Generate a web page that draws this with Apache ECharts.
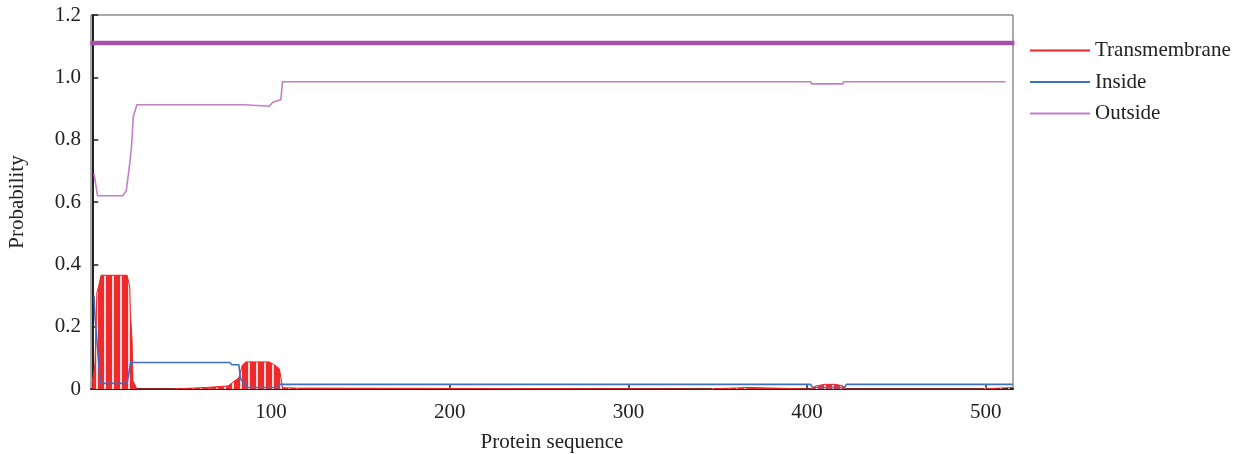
<!DOCTYPE html>
<html lang="en">
<head>
    <meta charset="UTF-8">
    <title>Protein topology</title>
    <script type="text/javascript" src="https://cdn.jsdelivr.net/npm/echarts@6/dist/echarts.min.js"></script>
    <style>
        html, body { margin: 0; padding: 0; background: #fff; }
    </style>
</head>
<body>
<div id="main" style="width: 1238px; height: 454px;"></div>

<script type="text/javascript">
    // residue positions and probabilities
    var outsidePos = [1, 2, 3, 17, 19, 21, 22, 23, 25, 85, 86, 99, 101, 105.5, 106.5, 402, 402.5, 420, 420.5, 511];
    var outsideVal = [0.69, 0.69, 0.62, 0.62, 0.635, 0.725, 0.78, 0.875, 0.912, 0.912, 0.907, 0.907, 0.92, 0.928, 0.986, 0.986, 0.979, 0.979, 0.986, 0.986];

    var insidePos = [1, 1.5, 2.5, 4.5, 19.5, 21.5, 77, 78, 82, 83, 87, 104, 105, 402, 403, 421, 422, 515];
    var insideVal = [0.3, 0.235, 0.235, 0.018, 0.018, 0.085, 0.085, 0.078, 0.078, 0.032, 0.005, 0.005, 0.015, 0.015, 0.005, 0.005, 0.015, 0.015];

    var tmPos = [0, 1, 1.5, 2, 2.6, 3.5, 4.9, 19.5, 21, 21.3, 22.3, 22.8, 25, 44, 44.5, 64, 64.5, 76, 82, 84, 86, 99, 102, 104.7, 106.5, 115, 116, 346, 347, 367, 368, 402, 405, 410, 416, 420, 422, 498, 499, 515];
    var tmVal = [0.02, 0.02, 0.08, 0.08, 0.31, 0.327, 0.365, 0.365, 0.327, 0.25, 0.155, 0.026, 0, 0, 0.005, 0.005, 0, 0.01, 0.036, 0.077, 0.087, 0.087, 0.077, 0.065, 0.004, 0.003, 0, 0, 0.005, 0.005, 0, 0, 0.01, 0.015, 0.015, 0.01, 0, 0, 0.005, 0.005];

    // predicted topology band (outside along the whole chain)
    var topoPos = [-1, 516];
    var topoVal = [1.11, 1.11];

    var xTicks = [100, 200, 300, 400, 500];
    var yTicks = [0, 0.2, 0.4, 0.6, 0.8, 1.0, 1.2];

    function zip(xs, ys) {
        var out = [];
        for (var i = 0; i < xs.length; i++) out.push([xs[i], ys[i]]);
        return out;
    }

    var font = 'Liberation Serif';
    var chart = echarts.init(document.getElementById('main'));

    chart.setOption({
        animation: false,
        grid: {
            left: 91, right: 225, top: 15, bottom: 65,
            outerBoundsMode: 'none',
            show: true, borderColor: '#555', borderWidth: 1
        },
        legend: {
            orient: 'vertical',
            left: 1025, top: 35,
            icon: 'rect',
            itemWidth: 60, itemHeight: 2, itemGap: 10.5,
            itemStyle: { decal: 'none' },
            data: ['Transmembrane', 'Inside', 'Outside'],
            textStyle: { fontFamily: font, fontSize: 21, color: '#222' }
        },
        xAxis: {
            type: 'value',
            min: -0.7, max: 515.2,
            name: 'Protein sequence',
            nameLocation: 'middle', nameGap: 43,
            nameTextStyle: { fontFamily: font, fontSize: 21, color: '#222' },
            axisLine: { lineStyle: { color: '#222', width: 2 } },
            axisTick: { inside: true, length: 5, customValues: xTicks, lineStyle: { color: '#222', width: 1.5 } },
            axisLabel: {
                fontFamily: font, fontSize: 21, color: '#222', margin: 13,
                customValues: xTicks
            },
            splitLine: { show: false }
        },
        yAxis: {
            type: 'value',
            min: 0, max: 1.2, interval: 0.2,
            name: 'Probability',
            nameLocation: 'middle', nameGap: 63,
            nameTextStyle: { fontFamily: font, fontSize: 21, color: '#222' },
            axisLine: { show: true, lineStyle: { color: '#222', width: 2 } },
            axisTick: { show: true, inside: true, length: 6, lineStyle: { color: '#222', width: 1.5 } },
            axisLabel: {
                fontFamily: font, fontSize: 21, color: '#222', margin: 10,
                formatter: function (v) {
                    var t = Math.round(v * 10) / 10;
                    if (yTicks.indexOf(t) < 0) return '';
                    return t === 0 ? '0' : t.toFixed(1);
                }
            },
            splitLine: { show: false }
        },
        series: [
            {
                name: 'Transmembrane',
                type: 'line',
                data: zip(tmPos, tmVal),
                symbol: 'none',
                color: '#e8272b',
                itemStyle: {
                    color: '#e8272b',
                    decal: {
                        symbol: 'rect',
                        symbolSize: 1,
                        color: 'rgba(255,235,235,0.9)',
                        dashArrayX: [1.2, 5.3],
                        dashArrayY: [40, 0],
                        rotation: 0
                    }
                },
                lineStyle: { width: 1, color: '#e8272b' },
                areaStyle: { color: '#ee2a2a', opacity: 1 },
                z: 2
            },
            {
                name: 'Inside',
                type: 'line',
                data: zip(insidePos, insideVal),
                symbol: 'none',
                color: '#3f6fc2',
                lineStyle: { width: 1.6, color: '#3f6fc2' },
                z: 3
            },
            {
                name: 'Outside',
                type: 'line',
                data: zip(outsidePos, outsideVal),
                symbol: 'none',
                color: '#c27fc8',
                lineStyle: { width: 1.6, color: '#c27fc8' },
                z: 3
            },
            {
                name: 'Topology',
                type: 'line',
                data: zip(topoPos, topoVal),
                symbol: 'none',
                lineStyle: { width: 4.5, color: '#a650aa' },
                z: 4
            }
        ]
    });
</script>
</body>
</html>
